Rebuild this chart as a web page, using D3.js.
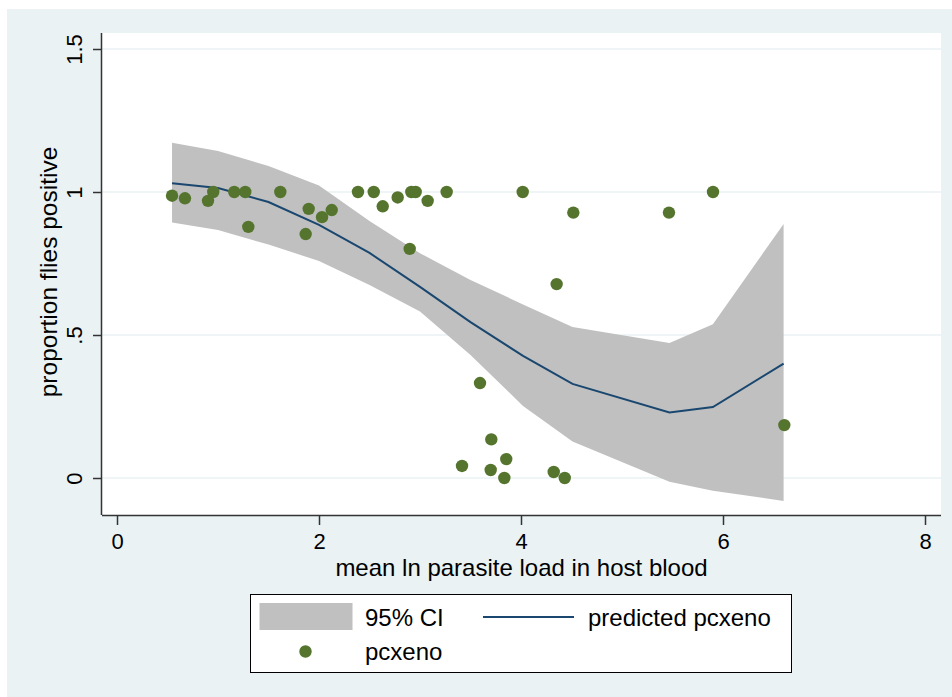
<!DOCTYPE html>
<html>
<head>
<meta charset="utf-8">
<script src="https://cdn.jsdelivr.net/npm/d3@7"></script>
<style>
  html, body { margin: 0; padding: 0; background: #ffffff; }
  svg { display: block; }
  text { font-family: "Liberation Sans", Arial, Helvetica, sans-serif; fill: #000; }
</style>
</head>
<body>
<svg id="chart" width="952" height="697"></svg>
<script>
// ---- data ----
const xTicks = [0, 2, 4, 6, 8];
const xTickLabels = ["0", "2", "4", "6", "8"];
const yTicks = [0, 0.5, 1, 1.5];
const yTickLabels = ["0", ".5", "1", "1.5"];

// observed pcxeno
const obsX = [0.545, 0.673, 0.901, 0.953, 1.161, 1.270, 1.300, 1.617, 1.868, 1.898,
              2.030, 2.126, 2.386, 2.542, 2.631, 2.779, 2.914, 2.957, 2.898, 3.076,
              3.264, 3.594, 3.416, 3.706, 3.700, 3.854, 3.835, 4.017, 4.353, 4.324,
              4.433, 4.518, 5.465, 5.901, 6.607];
const obsY = [0.987, 0.978, 0.969, 1.0, 1.0, 1.0, 0.878, 1.0, 0.853, 0.941,
              0.912, 0.937, 1.0, 1.0, 0.950, 0.981, 1.0, 1.0, 0.801, 0.969,
              1.0, 0.332, 0.042, 0.135, 0.028, 0.066, 0.0, 1.0, 0.678, 0.021,
              0.0, 0.928, 0.928, 1.0, 0.185];

// fitted prediction and 95% CI
const fitX     = [0.545, 1.0, 1.5, 2.0, 2.5, 3.0, 3.5, 4.02, 4.51, 5.47, 5.90, 6.60];
const fitPred  = [1.031, 1.014, 0.965, 0.885, 0.787, 0.668, 0.545, 0.427, 0.329, 0.229, 0.248, 0.400];
const fitUpper = [1.172, 1.143, 1.091, 1.023, 0.899, 0.786, 0.692, 0.607, 0.528, 0.472, 0.538, 0.888];
const fitLower = [0.893, 0.867, 0.816, 0.759, 0.675, 0.582, 0.430, 0.252, 0.128, -0.013, -0.045, -0.080];

const xTitle = "mean ln parasite load in host blood";
const yTitle = "proportion flies positive";
const legendLabels = ["95% CI", "predicted pcxeno", "pcxeno"];

// ---- styles ----
const BG = "#EAF2F3", CI = "#C0C0C0", LINE = "#1A476F", DOT = "#55752F";

const svg = d3.select("#chart");

// outer background
svg.append("rect").attr("x", 7).attr("y", 9).attr("width", 945).attr("height", 688).attr("fill", BG);
// plot region
const plot = { left: 102, top: 33, right: 941, bottom: 515 };
svg.append("rect").attr("x", plot.left).attr("y", plot.top)
  .attr("width", plot.right - plot.left).attr("height", plot.bottom - plot.top).attr("fill", "#fff");

const x = d3.scaleLinear().domain([0, 8]).range([117, 925]);
const y = d3.scaleLinear().domain([0, 1.5]).range([478, 49]);

// gridlines
svg.append("g").selectAll("line").data(yTicks).join("line")
  .attr("x1", plot.left).attr("x2", plot.right)
  .attr("y1", d => y(d)).attr("y2", d => y(d))
  .attr("stroke", BG).attr("stroke-width", 1.5);

const fit = fitX.map((v, i) => ({ x: v, p: fitPred[i], lo: fitLower[i], hi: fitUpper[i] }));

// CI band
svg.append("path").datum(fit)
  .attr("d", d3.area().x(d => x(d.x)).y0(d => y(d.lo)).y1(d => y(d.hi)))
  .attr("fill", CI);

// prediction line
svg.append("path").datum(fit)
  .attr("d", d3.line().x(d => x(d.x)).y(d => y(d.p)))
  .attr("fill", "none").attr("stroke", LINE).attr("stroke-width", 2);

// points
svg.append("g").selectAll("circle").data(obsX.map((v, i) => [v, obsY[i]])).join("circle")
  .attr("cx", d => x(d[0])).attr("cy", d => y(d[1])).attr("r", 6.2).attr("fill", DOT);

// axes
const xAxis = svg.append("g").attr("transform", `translate(0,${plot.bottom})`)
  .call(d3.axisBottom(x).tickValues(xTicks).tickFormat((d, i) => xTickLabels[i]).tickSize(10).tickPadding(8));
xAxis.select(".domain").attr("d", `M${plot.left},0.5H${plot.right}`).attr("stroke", "#333").attr("stroke-width", 1.5);
xAxis.selectAll(".tick line").attr("stroke", "#333").attr("stroke-width", 1.5);
xAxis.selectAll(".tick text").attr("font-size", 22).attr("fill", "#000")
  .attr("font-family", '"Liberation Sans", Arial, sans-serif');

const yAxis = svg.append("g").attr("transform", `translate(${plot.left},0)`)
  .call(d3.axisLeft(y).tickValues(yTicks).tickFormat((d, i) => yTickLabels[i]).tickSize(9));
yAxis.select(".domain").attr("d", `M-0.5,${plot.top}V${plot.bottom}`).attr("stroke", "#333").attr("stroke-width", 1.5);
yAxis.selectAll(".tick line").attr("stroke", "#333").attr("stroke-width", 1.5);
yAxis.selectAll(".tick text")
  .attr("x", null).attr("dy", null)
  .attr("transform", "translate(-20,0) rotate(-90)")
  .attr("text-anchor", "middle").attr("y", 0)
  .attr("font-size", 22).attr("fill", "#000")
  .attr("font-family", '"Liberation Sans", Arial, sans-serif');

// axis titles
svg.append("text").attr("x", (335 + 708) / 2).attr("y", 576).attr("text-anchor", "middle")
  .attr("font-size", 24).text(xTitle);
svg.append("text").attr("transform", "translate(57,272) rotate(-90)").attr("text-anchor", "middle")
  .attr("font-size", 24.5).text(yTitle);

// legend
const lg = svg.append("g");
lg.append("rect").attr("x", 250.5).attr("y", 594.5).attr("width", 541).attr("height", 78)
  .attr("fill", "#fff").attr("stroke", "#000").attr("stroke-width", 1);
lg.append("rect").attr("x", 259.5).attr("y", 603).attr("width", 93).attr("height", 27).attr("fill", CI);
lg.append("text").attr("x", 365).attr("y", 626).attr("font-size", 24).text(legendLabels[0]);
lg.append("line").attr("x1", 483).attr("x2", 574).attr("y1", 617).attr("y2", 617)
  .attr("stroke", LINE).attr("stroke-width", 2);
lg.append("text").attr("x", 588).attr("y", 626).attr("font-size", 24).text(legendLabels[1]);
lg.append("circle").attr("cx", 305.5).attr("cy", 651.5).attr("r", 6.2).attr("fill", DOT);
lg.append("text").attr("x", 365).attr("y", 660).attr("font-size", 24).text(legendLabels[2]);
</script>
</body>
</html>
